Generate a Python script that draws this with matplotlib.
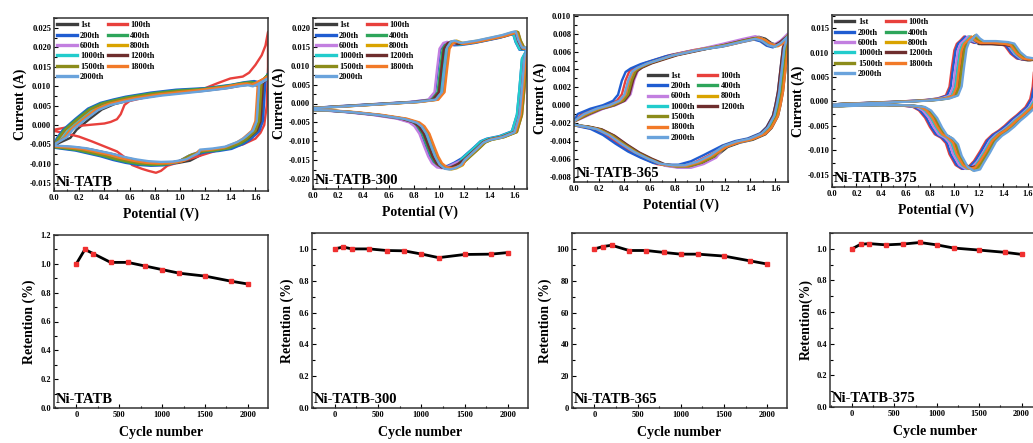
import numpy as np
import matplotlib
matplotlib.use("Agg")
import matplotlib.pyplot as plt
from matplotlib.ticker import AutoMinorLocator, FormatStrFormatter, MultipleLocator
from matplotlib.lines import Line2D

plt.rcParams['font.family'] = ['Liberation Serif', 'DejaVu Serif']
plt.rcParams['font.weight'] = 'bold'
plt.rcParams['axes.labelweight'] = 'bold'
plt.rcParams['axes.unicode_minus'] = False

W, H = 1033, 443

cycle_labels = ['1st', '100th', '200th', '400th', '600th', '800th',
                '1000th', '1200th', '1500th', '1800th', '2000th']
cycle_colors = ['#3d3d3d', '#e8403c', '#1f5cd1', '#2ea55a', '#c27fe0', '#d9a300',
                '#22cccc', '#6e2e2e', '#8c8c1a', '#f27a28', '#6aa3dc']

# ---- CV data: one typical loop per sample (anodic then cathodic),
# plus per-cycle potential offsets read off below / above 1.2 V
tatb_v = [0, 0.05, 0.1, 0.2, 0.3, 0.4, 0.5, 0.6, 0.8, 1.0, 1.2, 1.4, 1.5, 1.58, 1.62, 1.66, 1.7,
          1.7, 1.67, 1.66, 1.65, 1.62, 1.55, 1.5, 1.4, 1.3, 1.2, 1.1, 1.0, 0.9, 0.8, 0.7, 0.6, 0.5,
          0.4, 0.3, 0.2, 0.1, 0.0]
tatb_i = [-0.0052, -0.0033, -0.0012, 0.0015, 0.0040, 0.0054, 0.0062, 0.0069, 0.0079, 0.0086, 0.0090,
          0.0098, 0.0104, 0.0107, 0.0104, 0.0110, 0.0125,
          0.0125, 0.0110, 0.0060, 0.0010, -0.0015, -0.0035, -0.0045, -0.0058, -0.0063, -0.0066,
          -0.0075, -0.0092, -0.0098, -0.0099, -0.0097, -0.0092, -0.0085, -0.0076, -0.0069,
          -0.0062, -0.0058, -0.0055]
tatb_shift_lo = [0.08, 0.0, -0.03, -0.02, 0.0, 0.03, 0.02, 0.04, -0.01, 0.03, 0.05]
tatb_shift_hi = [0.0, 0.0, 0.01, -0.01, -0.02, -0.03, -0.04, -0.01, -0.02, -0.05, -0.04]
tatb_scale = [1.0, 1.0, 1.06, 1.04, 1.0, 1.0, 1.0, 0.98, 1.02, 1.0, 0.96]
# the 100th cycle of Ni-TATB has its own shape
tatb_100_v = [0, 0.1, 0.2, 0.3, 0.4, 0.45, 0.5, 0.53, 0.56, 0.6, 0.8, 1.0, 1.2, 1.3, 1.4, 1.5,
              1.55, 1.6, 1.65, 1.68, 1.7,
              1.7, 1.69, 1.67, 1.64, 1.6, 1.5, 1.4, 1.3, 1.2, 1.1, 1.0, 0.9, 0.85, 0.81, 0.75,
              0.7, 0.62, 0.57, 0.5, 0.4, 0.3, 0.2, 0.1, 0.0]
tatb_100_i = [-0.0012, -0.0006, -0.0002, 0.0001, 0.0004, 0.0008, 0.0015, 0.0028, 0.0052, 0.0062,
              0.0077, 0.0085, 0.0095, 0.0108, 0.0120, 0.0125, 0.0135, 0.0155, 0.0180, 0.0205, 0.0240,
              0.0150, 0.0050, 0.0, -0.0020, -0.0035, -0.0050, -0.0058, -0.0065, -0.0075, -0.0085,
              -0.0095, -0.0105, -0.0118, -0.0123, -0.0118, -0.0113, -0.0103, -0.0085, -0.0068,
              -0.0055, -0.0042, -0.0030, -0.0022, -0.0015]

t300_v = [0, 0.2, 0.4, 0.6, 0.8, 0.95, 1.0, 1.02, 1.04, 1.07, 1.1, 1.15, 1.2, 1.3, 1.4, 1.5, 1.58,
          1.61, 1.63, 1.66, 1.7,
          1.7, 1.68, 1.66, 1.64, 1.6, 1.5, 1.4, 1.35, 1.3, 1.2, 1.15, 1.1, 1.06, 1.02, 0.98, 0.95,
          0.92, 0.88, 0.84, 0.8, 0.7, 0.5, 0.3, 0.1, 0]
t300_i = [-0.0012, -0.0008, -0.0004, 0.0, 0.0004, 0.0010, 0.0030, 0.0090, 0.0145, 0.0160, 0.0163,
          0.0157, 0.0158, 0.0163, 0.0170, 0.0177, 0.0185, 0.0187, 0.0165, 0.0145, 0.0145,
          0.0145, 0.0120, 0.0040, -0.0030, -0.0075, -0.0088, -0.0095, -0.0102, -0.0118, -0.0148,
          -0.0160, -0.0168, -0.0171, -0.0169, -0.0158, -0.0140, -0.0115, -0.0080, -0.0060,
          -0.0050, -0.0040, -0.0030, -0.0023, -0.0018, -0.0017]
t300_shift_lo = [0.0, 0.02, -0.03, -0.01, -0.035, 0.04, 0.01, 0.0, 0.03, 0.045, 0.025]
t300_shift_hi = [0.0, 0.02, -0.02, 0.01, -0.01, 0.01, -0.02, 0.0, 0.02, 0.01, 0.0]
t300_scale = [1.0, 1.0, 0.98, 1.0, 1.0, 1.02, 0.99, 1.0, 1.01, 1.0, 1.02]

t365_v = [0, 0.1, 0.2, 0.3, 0.38, 0.42, 0.45, 0.48, 0.52, 0.6, 0.8, 1.0, 1.2, 1.35, 1.45, 1.5,
          1.55, 1.6, 1.65, 1.7,
          1.7, 1.68, 1.66, 1.64, 1.62, 1.6, 1.55, 1.5, 1.4, 1.3, 1.2, 1.1, 1.0, 0.9, 0.8, 0.7, 0.6,
          0.5, 0.4, 0.3, 0.2, 0.1, 0]
t365_i = [-0.0018, -0.0010, -0.0004, 0.0, 0.0005, 0.0012, 0.0028, 0.0038, 0.0042, 0.0047, 0.0056,
          0.0062, 0.0067, 0.0072, 0.0075, 0.0073, 0.0068, 0.0066, 0.0070, 0.0078,
          0.0078, 0.0065, 0.0040, 0.0015, 0.0, -0.0012, -0.0025, -0.0032, -0.0038, -0.0041,
          -0.0046, -0.0057, -0.0064, -0.0068, -0.0068, -0.0066, -0.0060, -0.0053, -0.0044,
          -0.0034, -0.0027, -0.0024, -0.0022]
t365_shift_lo = [0.02, -0.04, -0.07, 0.0, 0.03, 0.01, 0.0, 0.02, 0.01, -0.01, -0.02]
t365_shift_hi = [0.02, 0.0, -0.02, 0.01, -0.01, 0.0, 0.0, -0.02, 0.01, 0.02, -0.01]
t365_scale = [1.02, 1.0, 0.98, 1.0, 1.03, 1.0, 1.0, 1.0, 1.01, 1.0, 0.99]

t375_v = [0, 0.3, 0.6, 0.8, 0.9, 0.97, 1.0, 1.02, 1.04, 1.06, 1.09, 1.12, 1.15, 1.2, 1.3, 1.4,
          1.45, 1.5, 1.55, 1.6, 1.65, 1.7,
          1.7, 1.69, 1.68, 1.66, 1.62, 1.55, 1.5, 1.45, 1.4, 1.35, 1.3, 1.25, 1.2, 1.15, 1.1,
          1.05, 1.0, 0.97, 0.93, 0.88, 0.84, 0.8, 0.75, 0.7, 0.6, 0.4, 0.2, 0.0]
t375_i = [-0.0006, -0.0003, 0.0, 0.0003, 0.0006, 0.0012, 0.0030, 0.0070, 0.0105, 0.0118, 0.0125,
          0.0133, 0.0125, 0.0120, 0.0120, 0.0118, 0.0115, 0.0098, 0.0088, 0.0086, 0.0088, 0.0090,
          0.0090, 0.0060, 0.0030, 0.0005, -0.0012, -0.0028, -0.0038, -0.0050, -0.0060, -0.0068,
          -0.0080, -0.0102, -0.0122, -0.0135, -0.0138, -0.0130, -0.0108, -0.0085, -0.0074,
          -0.0067, -0.0052, -0.0033, -0.0018, -0.0011, -0.0008, -0.0007, -0.0008, -0.0010]
t375_shift_lo = [0.02, -0.04, -0.03, 0.0, -0.01, 0.05, 0.01, 0.03, 0.04, 0.02, 0.06]
t375_shift_hi = [0.0, -0.04, -0.03, 0.0, -0.01, 0.03, 0.0, 0.02, 0.03, 0.01, 0.04]
t375_scale = [0.98, 1.0, 1.0, 1.0, 1.0, 1.02, 1.0, 0.98, 1.0, 1.0, 1.03]

# ---- retention data
cycles = [0, 100, 200, 400, 600, 800, 1000, 1200, 1500, 1800, 2000]
ret_tatb = [1.0, 1.10, 1.07, 1.01, 1.01, 0.985, 0.96, 0.935, 0.915, 0.88, 0.86]
ret_300 = [1.0, 1.012, 1.0, 1.0, 0.99, 0.988, 0.968, 0.945, 0.965, 0.967, 0.977]
ret_365 = [100, 101.5, 102.3, 99, 99, 97.8, 96.7, 96.7, 95.5, 92.5, 90.5]
ret_375 = [1.0, 1.028, 1.033, 1.025, 1.03, 1.04, 1.025, 1.005, 0.992, 0.978, 0.965]


def box(l, t, r, b):
    return [l / W, 1 - b / H, (r - l) / W, (b - t) / H]


def style_axes(ax):
    for s in ax.spines.values():
        s.set_linewidth(1.1)
        s.set_color('#333333')
    ax.tick_params(which='both', direction='in', labelsize=6, width=0.8, pad=2)
    ax.tick_params(which='major', length=3)
    ax.tick_params(which='minor', length=1.8)
    ax.xaxis.set_minor_locator(AutoMinorLocator(2))
    ax.yaxis.set_minor_locator(AutoMinorLocator(2))


def cv_panel(rect, v, i, shift_lo, shift_hi, scales, ylim, ystep, name, legend_pos, special=None):
    ax = fig.add_axes(rect)
    v = np.array(v)
    i = np.array(i)
    for k in range(len(cycle_labels)):
        if special is not None and k in special:
            vv, ii = np.array(special[k][0]), np.array(special[k][1])
        else:
            vv = v + np.where(v < 1.2, shift_lo[k], shift_hi[k])
            vv[v == 0] = 0
            vv[v == 1.7] = 1.7
            vv = np.clip(vv, 0, 1.7)
            ii = i * scales[k]
        ax.plot(vv, ii, color=cycle_colors[k], lw=1.7, solid_joinstyle='round')
    ax.set_xlim(0, 1.7)
    ax.set_ylim(*ylim)
    ax.xaxis.set_major_locator(MultipleLocator(0.2))
    ax.yaxis.set_major_locator(MultipleLocator(ystep))
    ax.xaxis.set_major_formatter(FormatStrFormatter('%.1f'))
    ax.yaxis.set_major_formatter(FormatStrFormatter('%.3f'))
    style_axes(ax)
    ax.set_xlabel('Potential (V)', fontsize=10, labelpad=4)
    ax.set_ylabel('Current (A)', fontsize=10, labelpad=2)
    ax.text(0.01, 0.01, name, transform=ax.transAxes, fontsize=10.5, ha='left', va='bottom')

    # legend: rows of two as in the original (column-major order for matplotlib)
    h = [Line2D([], [], color=c, lw=2.4) for c in cycle_colors]
    blank = Line2D([], [], color='none')
    if legend_pos[2] == 7:
        col1 = [0, 2, 4, 6, 8, 9, 10]
        col2 = [1, 3, 5, 7]
        handles = [h[k] for k in col1] + [h[k] for k in col2] + [blank] * 3
        labels = [cycle_labels[k] for k in col1] + [cycle_labels[k] for k in col2] + [''] * 3
    else:
        col1 = [0, 2, 4, 6, 8, 10]
        col2 = [1, 3, 5, 7, 9]
        handles = [h[k] for k in col1] + [h[k] for k in col2]
        labels = [cycle_labels[k] for k in col1] + [cycle_labels[k] for k in col2]
    ax.legend(handles, labels, ncol=2, loc='upper left', bbox_to_anchor=legend_pos[:2],
              frameon=False, fontsize=6, handlelength=2.3, handletextpad=0.4,
              labelspacing=0.28, columnspacing=0.4, borderaxespad=0.2, borderpad=0.2)
    return ax


def ret_panel(rect, values, ylim, ystep, fmt, name, ylabel, xright):
    ax = fig.add_axes(rect)
    ax.plot(cycles, values, color='black', lw=2, marker='s', ms=3.2,
            mfc='#f03030', mec='#f03030', zorder=3)
    ax.set_xlim(-260, xright)
    ax.set_ylim(*ylim)
    ax.xaxis.set_major_locator(MultipleLocator(500))
    ax.yaxis.set_major_locator(MultipleLocator(ystep))
    ax.yaxis.set_major_formatter(FormatStrFormatter(fmt))
    style_axes(ax)
    ax.set_xlabel('Cycle number', fontsize=10, labelpad=5)
    ax.set_ylabel(ylabel, fontsize=10, labelpad=3)
    ax.text(0.01, 0.01, name, transform=ax.transAxes, fontsize=10.5, ha='left', va='bottom')
    return ax


fig = plt.figure(figsize=(W / 100, H / 100), dpi=100)

cv_panel(box(54, 18, 268, 191), tatb_v, tatb_i, tatb_shift_lo, tatb_shift_hi, tatb_scale,
         (-0.017, 0.0276), 0.005, 'Ni-TATB', (0.0, 1.0, 6), special={1: (tatb_100_v, tatb_100_i)})
cv_panel(box(313, 18, 527, 189), t300_v, t300_i, t300_shift_lo, t300_shift_hi, t300_scale,
         (-0.0226, 0.0226), 0.005, 'Ni-TATB-300', (0.0, 1.0, 6))
cv_panel(box(574, 15, 788, 182), t365_v, t365_i, t365_shift_lo, t365_shift_hi, t365_scale,
         (-0.0086, 0.0101), 0.002, 'Ni-TATB-365', (0.33, 0.68, 7))
cv_panel(box(832, 15, 1040, 187), t375_v, t375_i, t375_shift_lo, t375_shift_hi, t375_scale,
         (-0.0175, 0.0177), 0.005, 'Ni-TATB-375', (0.0, 1.0, 6))

ret_panel(box(54, 235, 268, 408), ret_tatb, (0, 1.2), 0.2, '%.1f', 'Ni-TATB', 'Retention (%)', 2234)
ret_panel(box(312, 233, 528, 408), ret_300, (0, 1.1), 0.2, '%.1f', 'Ni-TATB-300', 'Retention (%)', 2230)
ret_panel(box(572, 233, 787, 408), ret_365, (0, 110), 20, '%d', 'Ni-TATB-365', 'Retention (%)', 2230)
ret_panel(box(830, 233, 1041, 407), ret_375, (0, 1.1), 0.2, '%.1f', 'Ni-TATB-375', 'Retention(%)', 2230)

fig.savefig('out.png', dpi=100, facecolor='white')
